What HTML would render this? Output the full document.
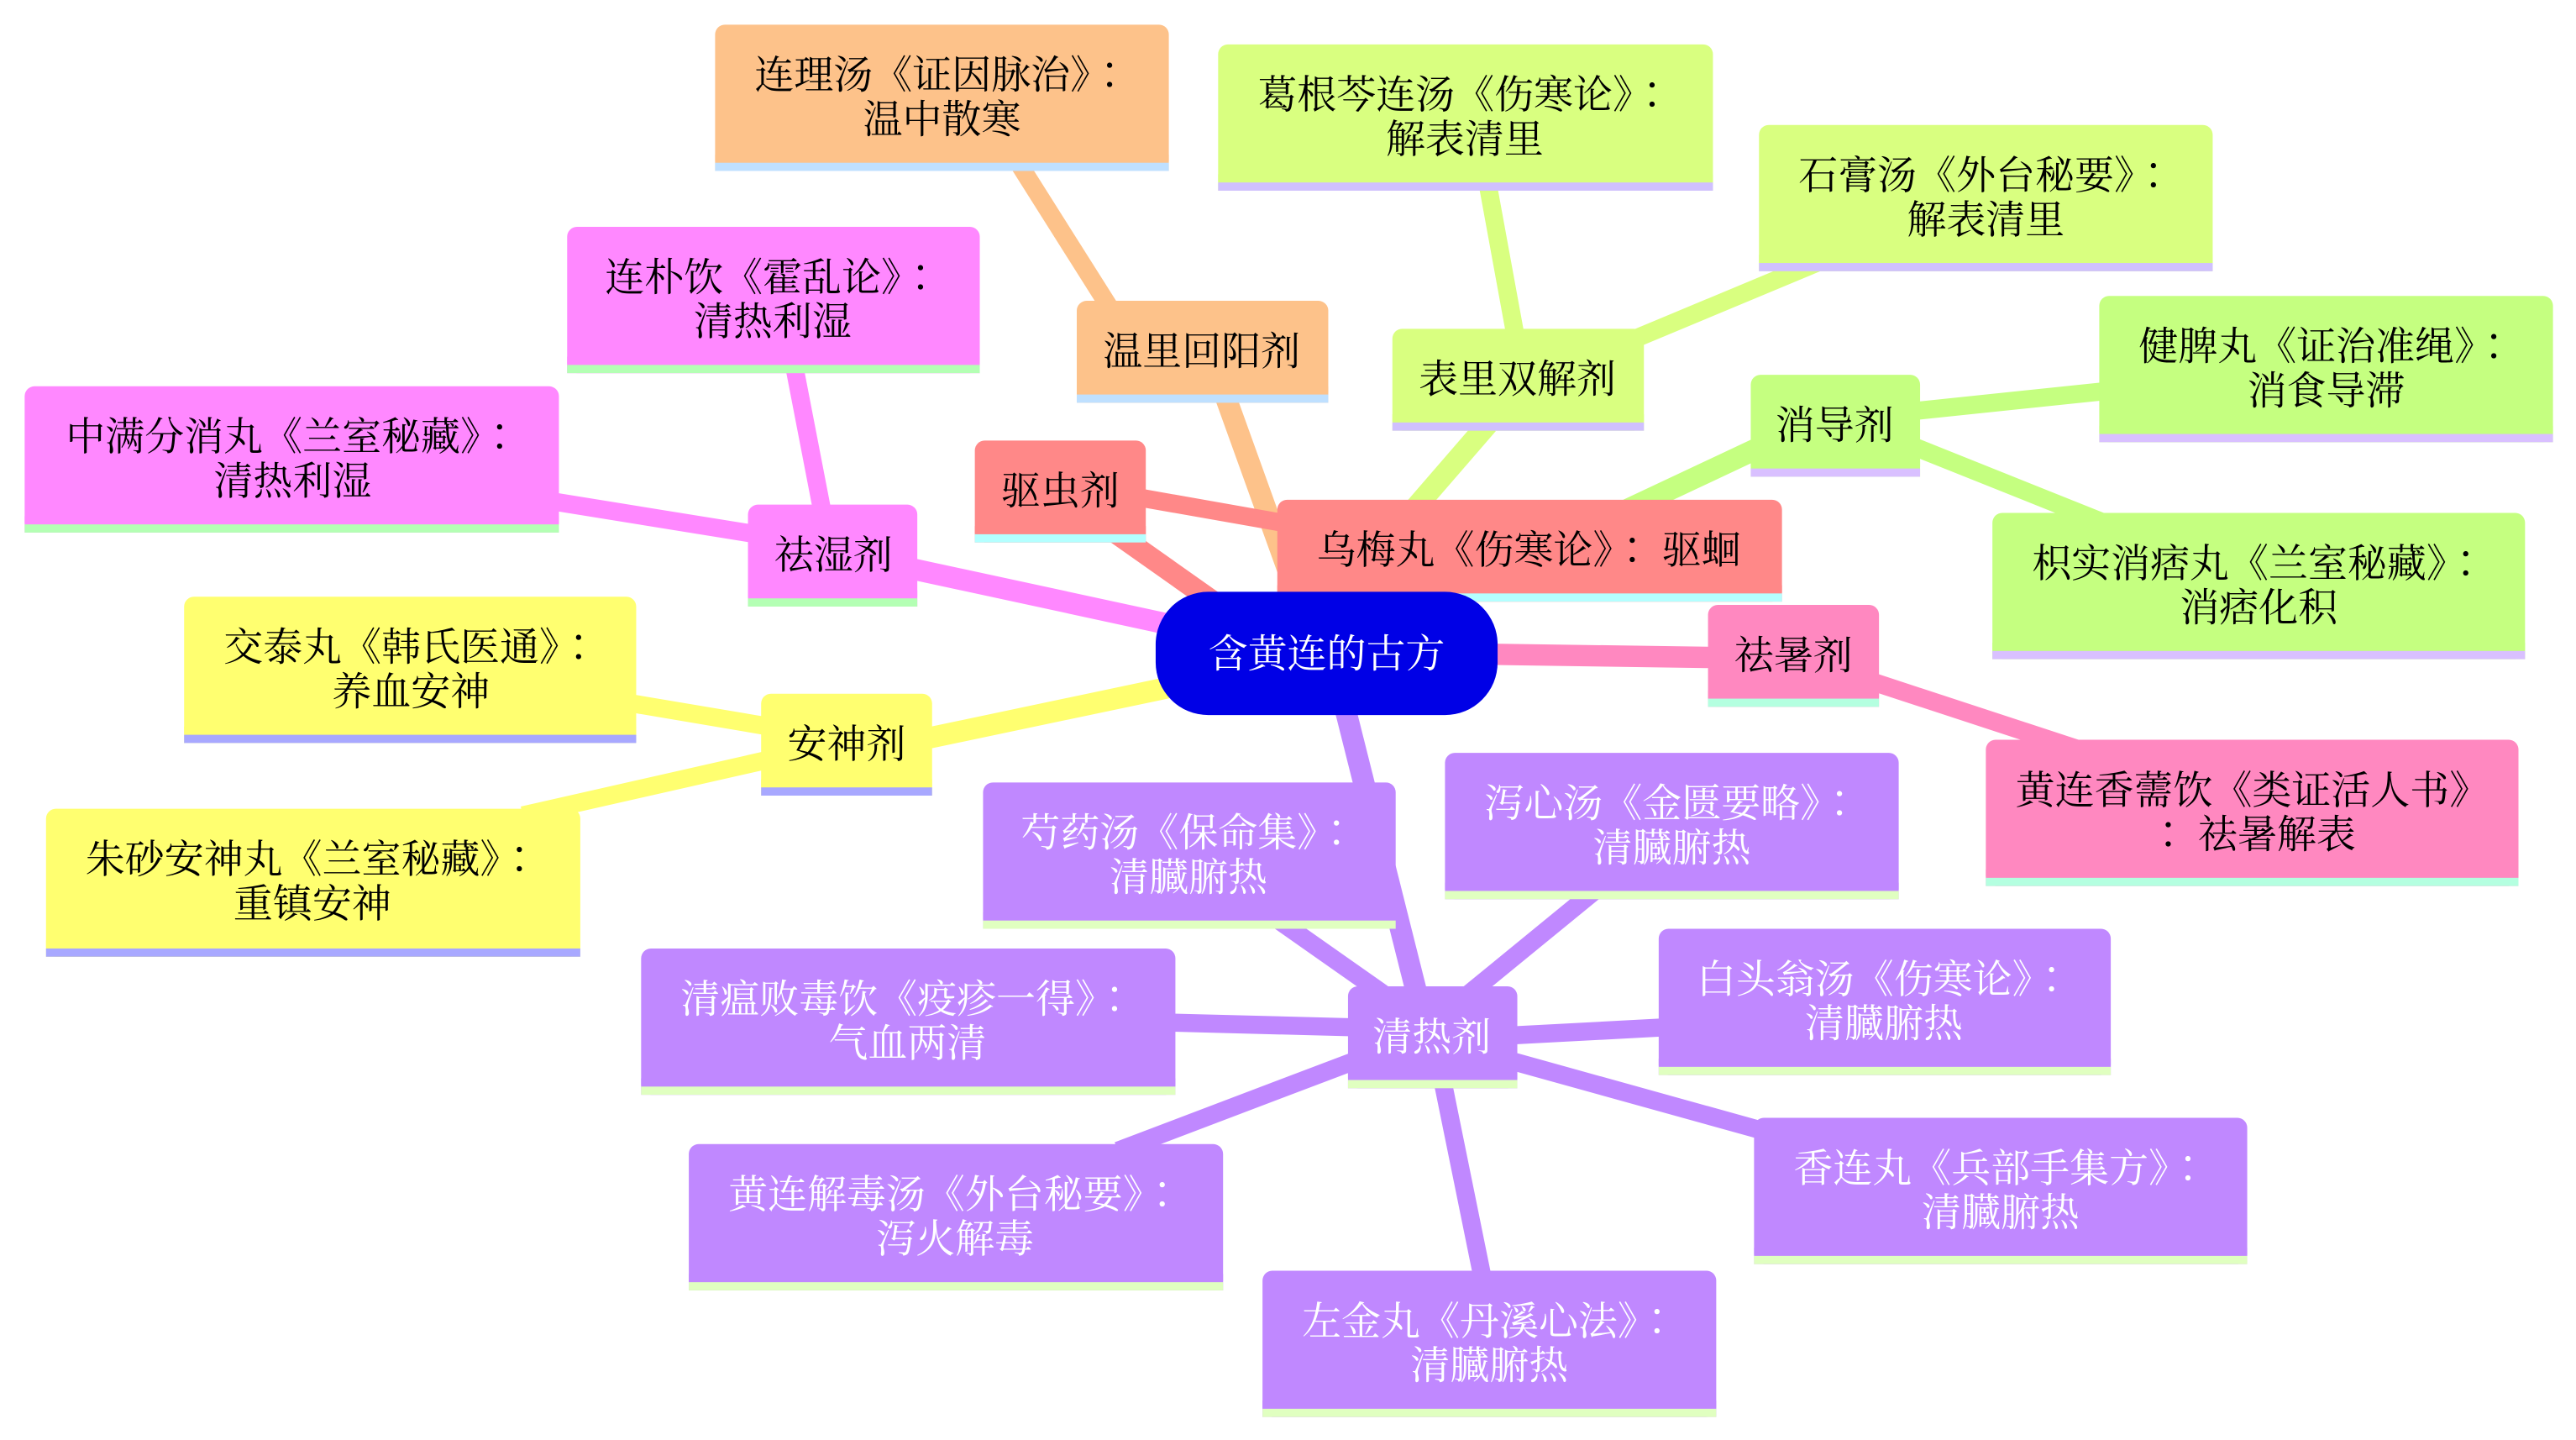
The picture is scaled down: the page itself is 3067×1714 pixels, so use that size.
<!DOCTYPE html>
<html><head><meta charset="utf-8"><style>html,body{margin:0;padding:0;background:#fff}svg{display:block}text{font-family:"Noto Serif CJK SC","Noto Sans CJK SC",serif;font-size:24px;text-anchor:middle}.c{font-family:"Noto Serif CJK TC","Noto Sans CJK TC",serif}</style></head>
<body>
<svg width="3067" height="1714" viewBox="0 0 1567 876" preserveAspectRatio="none" xmlns="http://www.w3.org/2000/svg">
<g stroke-linecap="butt" fill="none">
<g stroke="#fdc28a"><line x1="790" y1="365" x2="745" y2="240" stroke-width="13"/><line x1="680" y1="195" x2="620" y2="100" stroke-width="11"/></g>
<g stroke="#d9ff80"><line x1="860" y1="310" x2="905" y2="258" stroke-width="13"/><line x1="922" y1="205" x2="905" y2="112" stroke-width="11"/><line x1="990" y1="208" x2="1105" y2="160" stroke-width="11"/></g>
<g stroke="#c5ff80"><line x1="990" y1="310" x2="1075" y2="270" stroke-width="13"/><line x1="1165" y1="250" x2="1280" y2="238" stroke-width="11"/><line x1="1165" y1="272" x2="1280" y2="318" stroke-width="11"/></g>
<g stroke="#ff8888"><line x1="755" y1="378" x2="670" y2="318" stroke-width="13"/><line x1="695" y1="303" x2="780" y2="318" stroke-width="11"/></g>
<g stroke="#ff88ff"><line x1="712" y1="380" x2="550" y2="345" stroke-width="13"/><line x1="500" y1="310" x2="483" y2="222" stroke-width="11"/><line x1="460" y1="325" x2="336" y2="305" stroke-width="11"/></g>
<g stroke="#ffff70"><line x1="712" y1="418" x2="560" y2="450" stroke-width="13"/><line x1="468" y1="442" x2="385" y2="428" stroke-width="11"/><line x1="468" y1="462" x2="318" y2="496" stroke-width="11"/></g>
<g stroke="#ff88c0"><line x1="905" y1="398" x2="1045" y2="400" stroke-width="13"/><line x1="1140" y1="415" x2="1265" y2="456" stroke-width="11"/></g>
<g stroke="#c088ff"><line x1="818" y1="430" x2="862" y2="605" stroke-width="13"/><line x1="842" y1="605" x2="778" y2="560" stroke-width="11"/><line x1="893" y1="605" x2="970" y2="542" stroke-width="11"/><line x1="825" y1="625" x2="710" y2="622" stroke-width="11"/><line x1="918" y1="630" x2="1012" y2="625" stroke-width="11"/><line x1="825" y1="645" x2="680" y2="700" stroke-width="11"/><line x1="918" y1="645" x2="1080" y2="690" stroke-width="11"/><line x1="877" y1="655" x2="902" y2="778" stroke-width="11"/></g>
</g>
<g>
<rect x="435" y="15" width="276" height="89" rx="6" fill="#fdc28a"/><rect x="435" y="94" width="276" height="10" fill="#fdc28a"/><rect x="435" y="99" width="276" height="5" fill="#bfe0ff"/>
<text x="573" y="54">连理汤《证因脉治》<tspan class="c">：</tspan></text><text x="573" y="81">温中散寒</text>
<rect x="655" y="183" width="153" height="62" rx="6" fill="#fdc28a"/><rect x="655" y="235" width="153" height="10" fill="#fdc28a"/><rect x="655" y="240" width="153" height="5" fill="#bfe0ff"/>
<text x="731" y="222">温里回阳剂</text>
<rect x="741" y="27" width="301" height="89" rx="6" fill="#d9ff80"/><rect x="741" y="106" width="301" height="10" fill="#d9ff80"/><rect x="741" y="111" width="301" height="5" fill="#d0c0ff"/>
<text x="891" y="66">葛根芩连汤《伤寒论》<tspan class="c">：</tspan></text><text x="891" y="93">解表清里</text>
<rect x="1070" y="76" width="276" height="89" rx="6" fill="#d9ff80"/><rect x="1070" y="155" width="276" height="10" fill="#d9ff80"/><rect x="1070" y="160" width="276" height="5" fill="#d0c0ff"/>
<text x="1208" y="115">石膏汤《外台秘要》<tspan class="c">：</tspan></text><text x="1208" y="142">解表清里</text>
<rect x="847" y="200" width="153" height="62" rx="6" fill="#d9ff80"/><rect x="847" y="252" width="153" height="10" fill="#d9ff80"/><rect x="847" y="257" width="153" height="5" fill="#d0c0ff"/>
<text x="923" y="239">表里双解剂</text>
<rect x="1065" y="228" width="103" height="62" rx="6" fill="#c5ff80"/><rect x="1065" y="280" width="103" height="10" fill="#c5ff80"/><rect x="1065" y="285" width="103" height="5" fill="#d9c0ff"/>
<text x="1116" y="267">消导剂</text>
<rect x="1277" y="180" width="276" height="89" rx="6" fill="#c5ff80"/><rect x="1277" y="259" width="276" height="10" fill="#c5ff80"/><rect x="1277" y="264" width="276" height="5" fill="#d9c0ff"/>
<text x="1415" y="219">健脾丸《证治准绳》<tspan class="c">：</tspan></text><text x="1415" y="246">消食导滞</text>
<rect x="1212" y="312" width="324" height="89" rx="6" fill="#c5ff80"/><rect x="1212" y="391" width="324" height="10" fill="#c5ff80"/><rect x="1212" y="396" width="324" height="5" fill="#d9c0ff"/>
<text x="1374" y="351">枳实消痞丸《兰室秘藏》<tspan class="c">：</tspan></text><text x="1374" y="378">消痞化积</text>
<rect x="593" y="268" width="104" height="62" rx="6" fill="#ff8888"/><rect x="593" y="320" width="104" height="10" fill="#ff8888"/><rect x="593" y="325" width="104" height="5" fill="#b4ffff"/>
<text x="645" y="307">驱虫剂</text>
<rect x="777" y="304" width="307" height="62" rx="6" fill="#ff8888"/><rect x="777" y="356" width="307" height="10" fill="#ff8888"/><rect x="777" y="361" width="307" height="5" fill="#b4ffff"/>
<text x="930" y="343">乌梅丸《伤寒论》<tspan class="c">：</tspan> 驱蛔</text>
<rect x="455" y="307" width="103" height="62" rx="6" fill="#ff88ff"/><rect x="455" y="359" width="103" height="10" fill="#ff88ff"/><rect x="455" y="364" width="103" height="5" fill="#b4ffb4"/>
<text x="507" y="346">祛湿剂</text>
<rect x="345" y="138" width="251" height="89" rx="6" fill="#ff88ff"/><rect x="345" y="217" width="251" height="10" fill="#ff88ff"/><rect x="345" y="222" width="251" height="5" fill="#b4ffb4"/>
<text x="470" y="177">连朴饮《霍乱论》<tspan class="c">：</tspan></text><text x="470" y="204">清热利湿</text>
<rect x="15" y="235" width="325" height="89" rx="6" fill="#ff88ff"/><rect x="15" y="314" width="325" height="10" fill="#ff88ff"/><rect x="15" y="319" width="325" height="5" fill="#b4ffb4"/>
<text x="178" y="274">中满分消丸《兰室秘藏》<tspan class="c">：</tspan></text><text x="178" y="301">清热利湿</text>
<rect x="463" y="422" width="104" height="62" rx="6" fill="#ffff70"/><rect x="463" y="474" width="104" height="10" fill="#ffff70"/><rect x="463" y="479" width="104" height="5" fill="#a8a8ff"/>
<text x="515" y="461">安神剂</text>
<rect x="112" y="363" width="275" height="89" rx="6" fill="#ffff70"/><rect x="112" y="442" width="275" height="10" fill="#ffff70"/><rect x="112" y="447" width="275" height="5" fill="#a8a8ff"/>
<text x="250" y="402">交泰丸《韩氏医通》<tspan class="c">：</tspan></text><text x="250" y="429">养血安神</text>
<rect x="28" y="492" width="325" height="90" rx="6" fill="#ffff70"/><rect x="28" y="572" width="325" height="10" fill="#ffff70"/><rect x="28" y="577" width="325" height="5" fill="#a8a8ff"/>
<text x="190" y="531">朱砂安神丸《兰室秘藏》<tspan class="c">：</tspan></text><text x="190" y="558">重镇安神</text>
<rect x="1039" y="368" width="104" height="62" rx="6" fill="#ff88c0"/><rect x="1039" y="420" width="104" height="10" fill="#ff88c0"/><rect x="1039" y="425" width="104" height="5" fill="#b4ffe0"/>
<text x="1091" y="407">祛暑剂</text>
<rect x="1208" y="450" width="324" height="89" rx="6" fill="#ff88c0"/><rect x="1208" y="529" width="324" height="10" fill="#ff88c0"/><rect x="1208" y="534" width="324" height="5" fill="#b4ffe0"/>
<text x="1370" y="489">黄连香薷饮《类证活人书》</text><text x="1370" y="516"><tspan class="c">：</tspan> 祛暑解表</text>
<g fill="#fff">
<rect x="820" y="600" width="103" height="62" rx="6" fill="#c088ff"/><rect x="820" y="652" width="103" height="10" fill="#c088ff"/><rect x="820" y="657" width="103" height="5" fill="#e0ffc0"/>
<text x="871" y="639">清热剂</text>
<rect x="598" y="476" width="251" height="89" rx="6" fill="#c088ff"/><rect x="598" y="555" width="251" height="10" fill="#c088ff"/><rect x="598" y="560" width="251" height="5" fill="#e0ffc0"/>
<text x="723" y="515">芍药汤《保命集》<tspan class="c">：</tspan></text><text x="723" y="542">清臓腑热</text>
<rect x="879" y="458" width="276" height="89" rx="6" fill="#c088ff"/><rect x="879" y="537" width="276" height="10" fill="#c088ff"/><rect x="879" y="542" width="276" height="5" fill="#e0ffc0"/>
<text x="1017" y="497">泻心汤《金匮要略》<tspan class="c">：</tspan></text><text x="1017" y="524">清臓腑热</text>
<rect x="390" y="577" width="325" height="89" rx="6" fill="#c088ff"/><rect x="390" y="656" width="325" height="10" fill="#c088ff"/><rect x="390" y="661" width="325" height="5" fill="#e0ffc0"/>
<text x="552" y="616">清瘟败毒饮《疫疹一得》<tspan class="c">：</tspan></text><text x="552" y="643">气血两清</text>
<rect x="1009" y="565" width="275" height="89" rx="6" fill="#c088ff"/><rect x="1009" y="644" width="275" height="10" fill="#c088ff"/><rect x="1009" y="649" width="275" height="5" fill="#e0ffc0"/>
<text x="1146" y="604">白头翁汤《伤寒论》<tspan class="c">：</tspan></text><text x="1146" y="631">清臓腑热</text>
<rect x="419" y="696" width="325" height="89" rx="6" fill="#c088ff"/><rect x="419" y="775" width="325" height="10" fill="#c088ff"/><rect x="419" y="780" width="325" height="5" fill="#e0ffc0"/>
<text x="581" y="735">黄连解毒汤《外台秘要》<tspan class="c">：</tspan></text><text x="581" y="762">泻火解毒</text>
<rect x="1067" y="680" width="300" height="89" rx="6" fill="#c088ff"/><rect x="1067" y="759" width="300" height="10" fill="#c088ff"/><rect x="1067" y="764" width="300" height="5" fill="#e0ffc0"/>
<text x="1217" y="719">香连丸《兵部手集方》<tspan class="c">：</tspan></text><text x="1217" y="746">清臓腑热</text>
<rect x="768" y="773" width="276" height="89" rx="6" fill="#c088ff"/><rect x="768" y="852" width="276" height="10" fill="#c088ff"/><rect x="768" y="857" width="276" height="5" fill="#e0ffc0"/>
<text x="906" y="812">左金丸《丹溪心法》<tspan class="c">：</tspan></text><text x="906" y="839">清臓腑热</text>
</g>
<rect x="703" y="360" width="208" height="75" rx="32" fill="#0000e6"/>
<text x="807" y="406" fill="#fff">含黄连的古方</text>
</g>
</svg>
</body></html>
